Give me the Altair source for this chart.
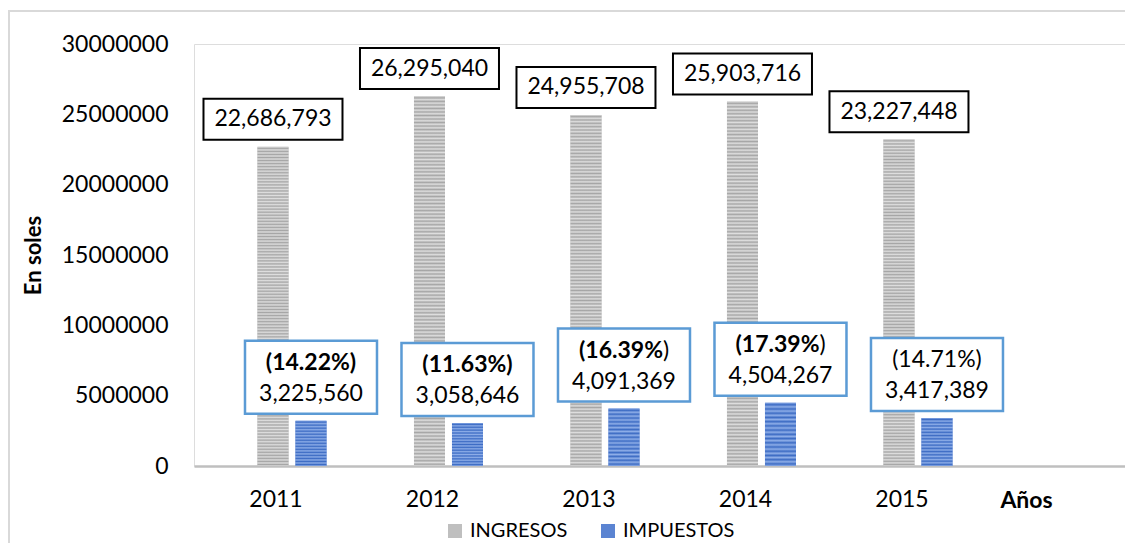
import altair as alt
import pandas as pd

years = ["2011", "2012", "2013", "2014", "2015"]
ingresos = [22686793, 26295040, 24955708, 25903716, 23227448]
impuestos = [3225560, 3058646, 4091369, 4504267, 3417389]
porcentajes = ["14.22%", "11.63%", "16.39%", "17.39%", "14.71%"]
series = ["INGRESOS", "IMPUESTOS"]
y_ticks = [0, 5000000, 10000000, 15000000, 20000000, 25000000, 30000000]

rows = []
for i, yr in enumerate(years):
    rows.append({"year": yr, "serie": "INGRESOS", "value": ingresos[i],
                 "pct_full": "", "pct_open": ""})
    rows.append({"year": yr, "serie": "IMPUESTOS", "value": impuestos[i],
                 "pct_full": "(" + porcentajes[i] + ")", "pct_open": "(" + porcentajes[i]})
df = pd.DataFrame(rows)

FONT = "Lato"
GRAY = "#bfbfbf"
BLUE = "#5b84d2"


def stripes(dark, light, n):
    stops = []
    for k in range(2 * n + 1):
        stops.append(alt.GradientStop(offset=k / (2 * n), color=dark if k % 2 else light))
    return alt.LinearGradient(gradient="linear", stops=stops, x1=0, x2=0, y1=0, y2=1)


x_enc = alt.X("year:N", sort=years,
              scale=alt.Scale(paddingInner=0.559, paddingOuter=0.754, align=0.269),
              axis=alt.Axis(domain=True, domainColor="#bfbfbf", domainWidth=2.5, ticks=False,
                            grid=False, labelAngle=0, labelOffset=-16, labelPadding=22,
                            labelFont=FONT, labelFontSize=23, labelColor="#000",
                            title="Años", titleFont=FONT, titleFontSize=23, titleFontWeight="bold",
                            titleColor="#000", titleX=832, titleY=41, titleAlign="center",
                            titleBaseline="alphabetic"))
xo_enc = alt.XOffset("serie:N", sort=series,
                     scale=alt.Scale(domain=series, paddingInner=0.184, paddingOuter=0))
y_enc = alt.Y("value:Q",
              scale=alt.Scale(domain=[0, 30000000], nice=False, zero=True),
              axis=alt.Axis(values=y_ticks, format="d", domain=False, ticks=False, grid=False,
                            labelPadding=26, labelFont=FONT, labelFontSize=23, labelColor="#000",
                            title="En soles", titleFont=FONT, titleFontSize=22,
                            titleFontWeight="bold", titleColor="#000", titleX=-161, titleY=211,
                            titleAngle=270, titleAlign="center", titleBaseline="middle"))

base = alt.Chart(df)

frame = alt.Chart(pd.DataFrame({"f": [0]})).mark_rect(
    fill="white", fillOpacity=0, stroke="#d9d9d9", strokeWidth=2
).encode(x=alt.value(-185), x2=alt.value(1100), y=alt.value(-33), y2=alt.value(700))

bars = base.mark_bar().encode(
    x=x_enc, xOffset=xo_enc, y=y_enc,
    color=alt.Color("serie:N", sort=series,
                    scale=alt.Scale(domain=series, range=[GRAY, BLUE]),
                    legend=alt.Legend(title=None, orient="none", legendX=251, legendY=477,
                                      direction="horizontal", symbolType="square",
                                      symbolSize=196, symbolStrokeWidth=0,
                                      labelFont=FONT, labelFontSize=20, labelColor="#000",
                                      labelOffset=5, columnPadding=30, padding=0))
)

gray_stripes = base.transform_filter(alt.datum.serie == "INGRESOS").mark_bar(
    fill=stripes("#a6a6a6", "#dedede", 105)
).encode(x="year:N", xOffset="serie:N", y="value:Q")

blue_stripes = base.transform_filter(alt.datum.serie == "IMPUESTOS").mark_bar(
    fill=stripes("#3d6cc4", "#8eaee8", 15)
).encode(x="year:N", xOffset="serie:N", y="value:Q")

box_ing = base.transform_filter(alt.datum.serie == "INGRESOS").mark_point(
    shape="M-1,-0.295L1,-0.295L1,0.295L-1,0.295Z", size=139 * 139, filled=True,
    fill="white", stroke="black", strokeWidth=2, opacity=1, yOffset=-27.5
).encode(x="year:N", xOffset="serie:N", y="value:Q")

box_imp = base.transform_filter(alt.datum.serie == "IMPUESTOS").mark_point(
    shape="M-1,-0.553L1,-0.553L1,0.553L-1,0.553Z", size=132 * 132, filled=True,
    fill="white", stroke="#5b9bd5", strokeWidth=2.5, opacity=1, yOffset=-43.5
).encode(x="year:N", xOffset="serie:N", y="value:Q")

txt_ing = base.transform_filter(alt.datum.serie == "INGRESOS").mark_text(
    font=FONT, fontSize=23, color="#000", baseline="middle", dy=-27.5
).encode(x="year:N", xOffset="serie:N", y="value:Q", text=alt.Text("value:Q", format=","))

txt_imp = base.transform_filter(alt.datum.serie == "IMPUESTOS").mark_text(
    font=FONT, fontSize=23, color="#000", baseline="middle", dy=-26.6
).encode(x="year:N", xOffset="serie:N", y="value:Q", text=alt.Text("value:Q", format=","))

imp = base.transform_filter(alt.datum.serie == "IMPUESTOS")

pct_bold = imp.transform_filter(
    alt.FieldOneOfPredicate(field="year", oneOf=["2011", "2012"])
).mark_text(font=FONT, fontSize=23, fontWeight="bold", color="#000", baseline="middle", dy=-57.6
            ).encode(x="year:N", xOffset="serie:N", y="value:Q", text="pct_full:N")

pct_split_a = imp.transform_filter(
    alt.FieldOneOfPredicate(field="year", oneOf=["2013", "2014"])
).mark_text(font=FONT, fontSize=23, fontWeight="bold", color="#000", baseline="middle",
            align="right", dx=39, dy=-57.6
            ).encode(x="year:N", xOffset="serie:N", y="value:Q", text="pct_open:N")

pct_split_b = imp.transform_filter(
    alt.FieldOneOfPredicate(field="year", oneOf=["2013", "2014"])
).mark_text(font=FONT, fontSize=23, color="#000", baseline="middle",
            align="left", dx=39, dy=-57.6, text=")"
            ).encode(x="year:N", xOffset="serie:N", y="value:Q")

pct_reg = imp.transform_filter(
    alt.FieldOneOfPredicate(field="year", oneOf=["2015"])
).mark_text(font=FONT, fontSize=23, color="#000", baseline="middle", dy=-57.6
            ).encode(x="year:N", xOffset="serie:N", y="value:Q", text="pct_full:N")

chart = alt.layer(
    frame, bars, gray_stripes, blue_stripes, box_ing, box_imp,
    txt_ing, txt_imp, pct_bold, pct_split_a, pct_split_b, pct_reg
).properties(
    width=931, height=422,
    autosize=alt.AutoSizeParams(type="none"),
    padding={"left": 186, "top": 36, "right": 0, "bottom": 77},
    background="white"
).configure_view(strokeWidth=0).configure(font=FONT)

chart.save("out.html", embed_options={"renderer": "svg", "actions": False})
